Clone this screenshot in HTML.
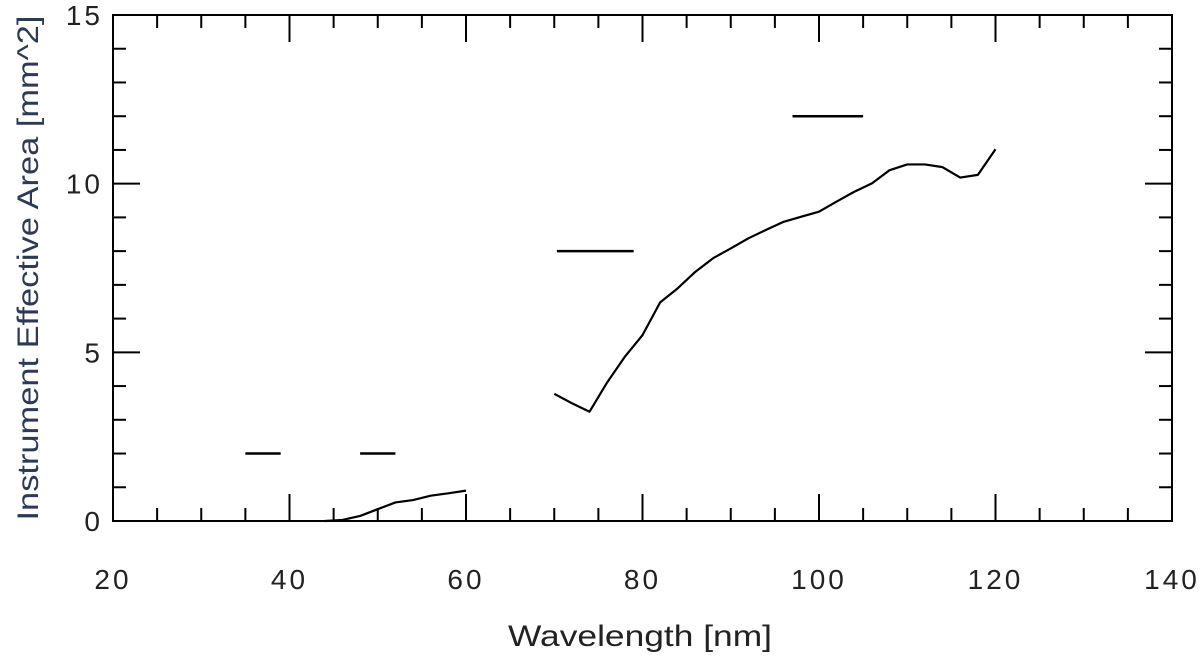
<!DOCTYPE html>
<html><head><meta charset="utf-8"><style>
body{margin:0;background:#fff;width:1200px;height:660px;overflow:hidden}
svg text{font-family:"Liberation Sans",sans-serif;fill:#222}
</style></head><body>
<svg id="c" width="1200" height="660">
<g id="axes"></g>
<g id="marks"></g>
<text x="640" y="646" font-size="30" text-anchor="middle" textLength="264" lengthAdjust="spacingAndGlyphs">Wavelength [nm]</text>
<text transform="translate(38,268) rotate(-90)" font-size="30" text-anchor="middle" textLength="505" lengthAdjust="spacingAndGlyphs" style="fill:#2d3a55">Instrument Effective Area [mm^2]</text>
</svg>
<script>
const xTicks=[20,40,60,80,100,120,140];
const yTicks=[0,5,10,15];
const hiX=[70,72,74,76,78,80,82,84,86,88,90,92,94,96,98,100,102,104,106,108,110,112,114,116,118,120];
const hiY=[3.77,3.49,3.24,4.11,4.87,5.51,6.48,6.9,7.39,7.79,8.08,8.38,8.63,8.87,9.02,9.17,9.47,9.76,10.01,10.4,10.57,10.57,10.49,10.18,10.26,11.02];
const loX=[44,46,48,50,52,54,56,58,60];
const loY=[0,0.03,0.15,0.35,0.55,0.62,0.75,0.82,0.9];
const segStart=[35,48,70.3,97];
const segEnd=[39,52,79,105];
const segY=[2,2,8,12];
const L=113,R=1172,T=15,B=521;
const sx=v=>L+(v-20)*(R-L)/120;
const sy=v=>B-v*(B-T)/15;
const NS='http://www.w3.org/2000/svg';
function mk(tag,attrs,parent){const e=document.createElementNS(NS,tag);for(const k in attrs)e.setAttribute(k,attrs[k]);parent.appendChild(e);return e;}
const ax=document.getElementById('axes'),mg=document.getElementById('marks');
const frame=mk('rect',{x:L,y:T,width:R-L,height:B-T,fill:'none',stroke:'#000','stroke-width':2},ax);


for(let v=20;v<=140;v+=5){const maj=v%20===0;const len=maj?27:13;const x=sx(v);
 const t1=mk('line',{x1:x,x2:x,y1:B,y2:B-len,stroke:'#000','stroke-width':2},ax);
 
 
 const t2=mk('line',{x1:x,x2:x,y1:T,y2:T+len,stroke:'#000','stroke-width':2},ax);
 
 }
for(let v=0;v<=15;v+=1){const maj=v%5===0;const len=maj?27:13;const y=sy(v);
 const t1=mk('line',{x1:L,x2:L+len,y1:y,y2:y,stroke:'#000','stroke-width':2},ax);
 
 
 const t2=mk('line',{x1:R,x2:R-len,y1:y,y2:y,stroke:'#000','stroke-width':2},ax);
 
 }
xTicks.forEach(v=>{const t=mk('text',{x:sx(v),y:589,'font-size':28,'text-anchor':'middle','letter-spacing':'3'},ax);t.textContent=v;
 
 });
yTicks.forEach(v=>{const t=mk('text',{x:103,y:sy(v)+10,'font-size':28,'text-anchor':'end','letter-spacing':'3'},ax);t.textContent=v;
 
 });
const p1=mk('polyline',{points:hiX.map((x,i)=>sx(x)+','+sy(hiY[i])).join(' '),fill:'none',stroke:'#000','stroke-width':2.2,'stroke-linejoin':'round'},mg);


const p2=mk('polyline',{points:loX.map((x,i)=>sx(x)+','+sy(loY[i])).join(' '),fill:'none',stroke:'#000','stroke-width':2.2,'stroke-linejoin':'round'},mg);


segY.forEach((y,i)=>{const s=mk('line',{x1:sx(segStart[i]),x2:sx(segEnd[i]),y1:sy(y),y2:sy(y),stroke:'#000','stroke-width':2.5},mg);
 
 });
</script>
</body></html>
